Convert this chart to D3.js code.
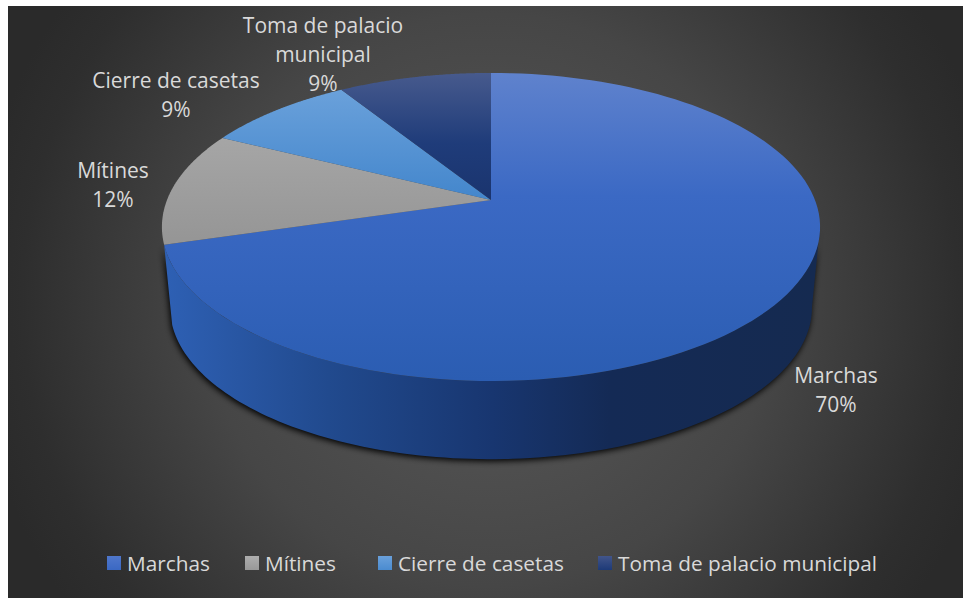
<!DOCTYPE html>
<html>
<head>
<meta charset="utf-8">
<script src="https://cdn.jsdelivr.net/npm/d3@7"></script>
<style>
html, body { margin: 0; padding: 0; background: #fff; }
svg { display: block; }
text { font-family: "Open Sans", "Noto Sans", sans-serif; fill: #d9d9d9; }
</style>
</head>
<body>
<svg id="chart" width="963" height="598"></svg>
<script>
const categories = ["Marchas", "Mítines", "Cierre de casetas", "Toma de palacio municipal"];
const values = [70.4, 12, 8.7, 8.9];
const labelLines = [["Marchas"], ["Mítines"], ["Cierre de casetas"], ["Toma de palacio", "municipal"]];
const labelPos = [[836, 376], [113, 171], [176, 81], [323, 26]];
const legendX = [107, 245, 378, 598];
const faceStops = [
    [["0", "#5f82cd"], ["0.4", "#3b69c4"], ["1", "#2b5db2"]],
    [["0", "#b0b0b0"], ["1", "#959595"]],
    [["0", "#70a5dd"], ["1", "#4386cc"]],
    [["0", "#475a8d"], ["0.55", "#1f3c7a"], ["1", "#1a346e"]]
];
const swatchStops = [
    [["0", "#4f77cb"], ["1", "#3a68c3"]],
    [["0", "#adadad"], ["1", "#989898"]],
    [["0", "#6aa0db"], ["1", "#4a8bd0"]],
    [["0", "#42558a"], ["1", "#1d3a78"]]
];

const svg = d3.select("#chart");
const defs = svg.append("defs");

// background
const bg = defs.append("radialGradient").attr("id", "bg")
    .attr("gradientUnits", "userSpaceOnUse")
    .attr("cx", 490).attr("cy", 300).attr("r", 520);
[["0", "#5a5a5a"], ["0.55", "#464646"], ["0.9", "#2e2e2e"], ["1", "#2a2a2a"]].forEach(s => bg.append("stop").attr("offset", s[0]).attr("stop-color", s[1]));
svg.append("rect").attr("x", 8).attr("y", 6).attr("width", 955).attr("height", 592).attr("fill", "url(#bg)");

// gradients for the slices
faceStops.forEach((stops, i) => {
    const g = defs.append("linearGradient").attr("id", "face" + i)
        .attr("gradientUnits", "userSpaceOnUse")
        .attr("x1", 0).attr("x2", 0)
        .attr("y1", 73).attr("y2", i == 0 ? 381 : i == 1 ? 245 : 200);
    stops.forEach(s => g.append("stop").attr("offset", s[0]).attr("stop-color", s[1]));
});
swatchStops.forEach((stops, i) => {
    const g = defs.append("linearGradient").attr("id", "swatch" + i)
        .attr("x1", 0).attr("x2", 0).attr("y1", 0).attr("y2", 1);
    stops.forEach(s => g.append("stop").attr("offset", s[0]).attr("stop-color", s[1]));
});
const side = defs.append("linearGradient").attr("id", "side")
    .attr("gradientUnits", "userSpaceOnUse")
    .attr("x1", 165).attr("x2", 820).attr("y1", 0).attr("y2", 0);
[["0", "#2e60b4"], ["0.25", "#214a8e"], ["0.5", "#183670"], ["0.68", "#142a55"], ["1", "#152a50"]].forEach(s => side.append("stop").attr("offset", s[0]).attr("stop-color", s[1]));

const blur = defs.append("filter").attr("id", "blur")
    .attr("x", "-5%").attr("y", "-5%").attr("width", "110%").attr("height", "110%");
blur.append("feGaussianBlur").attr("stdDeviation", 3);

// tilted disc, rim point for an angle measured clockwise from the top
const K = 0.175;
const topDisc = {x: 491, y: 200, w: 324, h: 149.3};
const botDisc = {x: 491, y: 281, w: 316, h: 147};
function rim(disc, a) {
    const u = Math.sin(a), v = Math.cos(a), p = 1 + K * v;
    return [disc.x + disc.w * u / p, disc.y - disc.h * v / p];
}
const line = d3.line();
const pie = d3.pie().sort(null)(values);
const pct = d3.format(".0f");

function arcPoints(disc, a0, a1) {
    return d3.range(0, 121).map(i => rim(disc, a0 + (a1 - a0) * i / 120));
}

// wall + shadow
const wallA0 = 100 * Math.PI / 180, wallA1 = pie[0].endAngle;
const wallPts = arcPoints(topDisc, wallA0, wallA1).concat(arcPoints(botDisc, wallA1, wallA0));
svg.append("path").attr("d", line(wallPts) + "Z")
    .attr("fill", "#000").attr("filter", "url(#blur)").attr("transform", "translate(-1,2)");
svg.append("path").attr("d", line(wallPts) + "Z").attr("fill", "url(#side)");

// top faces
svg.selectAll(".slice").data(pie).enter().append("path")
    .attr("class", "slice")
    .attr("d", d => line([[topDisc.x, topDisc.y]].concat(arcPoints(topDisc, d.startAngle, d.endAngle))) + "Z")
    .attr("fill", (d, i) => "url(#face" + i + ")");

// data labels
const labels = svg.selectAll(".label").data(labelLines).enter().append("text")
    .attr("class", "label")
    .attr("text-anchor", "middle")
    .attr("font-size", 21)
    .attr("transform", (d, i) => "translate(" + labelPos[i] + ")");
labels.selectAll("tspan").data((d, i) => d.concat(pct(values[i]) + "%")).enter().append("tspan")
    .attr("x", 0)
    .attr("y", (d, i) => i * 29 + 7)
    .text(d => d);

// legend
const legend = svg.selectAll(".legend").data(categories).enter().append("g")
    .attr("class", "legend")
    .attr("transform", (d, i) => "translate(" + legendX[i] + ",556)");
legend.append("rect").attr("width", 14).attr("height", 14)
    .attr("fill", (d, i) => "url(#swatch" + i + ")");
legend.append("text").attr("x", 20).attr("y", 14.5).attr("font-size", 20.8).text(d => d);
</script>
</body>
</html>
